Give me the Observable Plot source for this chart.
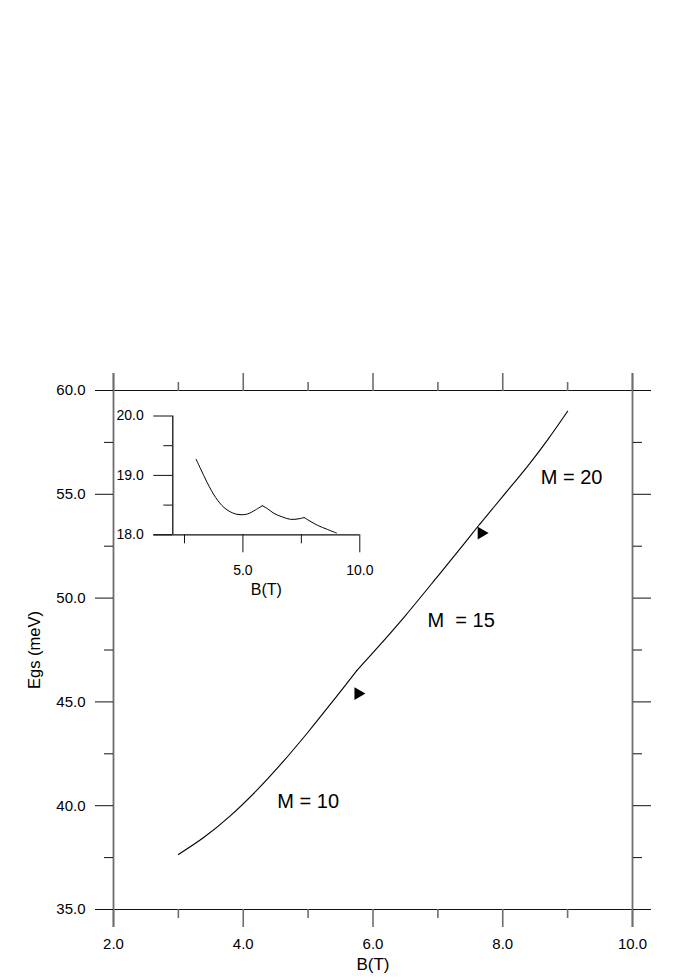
<!DOCTYPE html>
<html>
<head>
<meta charset="utf-8">
<script src="https://cdn.jsdelivr.net/npm/d3@7"></script>
<script src="https://cdn.jsdelivr.net/npm/@observablehq/plot@0.6"></script>
<style>
html, body { margin: 0; padding: 0; background: #fff; }
#chart { position: relative; width: 681px; height: 980px; }
#chart svg { position: absolute; left: 0; top: 0; }
</style>
</head>
<body>
<div id="chart"></div>
<script>
// ---- Main curve: ground-state energy Egs (meV) versus B (T)
const mainB = [3.0, 3.4, 3.8, 4.2, 4.6, 5.0, 5.4, 5.75, 6.1, 6.5, 7.0, 7.4, 7.65, 8.0, 8.4, 8.7, 9.0];
const mainE = [37.65, 38.49, 39.51, 40.71, 42.07, 43.55, 45.11, 46.51, 47.72, 49.16, 51.06, 52.60, 53.58, 54.90, 56.42, 57.66, 59.0];
const mainKinksB = [5.75, 7.65];

// ---- Transition markers (triangles)
const markerB = [5.77, 7.67];
const markerE = [45.40, 53.13];

// ---- Angular momentum labels
const mLabels = ["M = 10", "M\u00a0 = 15", "M = 20"];
const mLabelB = [4.525, 6.84, 8.586];
const mLabelE = [39.89, 48.63, 55.52];

// ---- Inset curve
const insetB = [3.0, 3.19, 3.47, 3.83, 4.19, 4.55, 4.83, 5.19, 5.54, 5.83, 6.05, 6.33, 6.69, 7.04, 7.40, 7.62, 7.83, 8.19, 8.62, 9.0];
const insetE = [19.27, 19.11, 18.88, 18.63, 18.46, 18.37, 18.34, 18.35, 18.42, 18.49, 18.44, 18.36, 18.30, 18.26, 18.27, 18.29, 18.24, 18.16, 18.09, 18.03];
const insetKinksB = [5.83, 7.62];

// ---- Axes
const xDomain = [2, 10];
const yDomain = [35, 60];
const xMajor = [2, 4, 6, 8, 10];
const xMinor = [3, 5, 7, 9];
const yMajor = [35, 40, 45, 50, 55, 60];
const yMinor = [37.5, 42.5, 47.5, 52.5, 57.5];
const xTitle = "B(T)";
const yTitle = "Egs (meV)";

const insetXDomain = [2, 10];
const insetYDomain = [18, 20];
const insetXMajor = [5, 10];
const insetXMinor = [2.5, 7.5];
const insetYMajor = [18, 19, 20];
const insetYMinor = [18.5, 19.5];
const insetXTitle = "B(T)";

// ---- build tables
function segmented(Bs, Es, kinks) {
  const rows = [];
  Bs.forEach((b, i) => {
    const seg = kinks.filter(k => b > k + 1e-9).length;
    rows.push({B: b, E: Es[i], seg});
    if (kinks.some(k => Math.abs(k - b) < 1e-9)) rows.push({B: b, E: Es[i], seg: seg + 1});
  });
  return rows;
}
const mainRows = segmented(mainB, mainE, mainKinksB);
const insetRows = segmented(insetB, insetE, insetKinksB);
const markers = markerB.map((b, i) => ({B: b, E: markerE[i]}));
const labels = mLabels.map((t, i) => ({t, B: mLabelB[i], E: mLabelE[i]}));

// right-pointing triangle symbol (centroid at origin)
const triangleRight = {
  draw(ctx, size) {
    const s = Math.sqrt(size * 4 / Math.sqrt(3));
    const h = s * Math.sqrt(3) / 2;
    ctx.moveTo(-h / 3, -s / 2);
    ctx.lineTo(2 * h / 3, 0);
    ctx.lineTo(-h / 3, s / 2);
    ctx.closePath();
  }
};

const font = "'Liberation Sans', Arial, Helvetica, sans-serif";
const fmt = d3.format(".1f");
const vGray = "#6e6e6e";

const W = 681, H = 980;
const main = Plot.plot({
  width: W, height: H,
  marginLeft: 113, marginRight: 49, marginTop: 390, marginBottom: 71,
  style: {background: "white", fontFamily: font, color: "#000", overflow: "visible"},
  x: {domain: xDomain},
  y: {domain: yDomain},
  marks: [
    // frame lines extending past the corners
    Plot.ruleY(yDomain, {stroke: "#111", strokeWidth: 1.2, insetLeft: -18, insetRight: -17}),
    Plot.ruleX(xDomain, {stroke: vGray, strokeWidth: 1.8, insetTop: -17, insetBottom: -18}),
    // bottom axis
    Plot.axisX({anchor: "bottom", ticks: xMajor, tickSize: 18, tickPadding: 11, tickFormat: fmt, label: null, fontSize: 15, stroke: vGray, strokeWidth: 1.6, fill: "#000"}),
    Plot.axisX({anchor: "bottom", ticks: xMinor, tickSize: 9, label: null, fill: "none", stroke: vGray, strokeWidth: 1.6}),
    // top axis
    Plot.axisX({anchor: "top", ticks: xMajor, tickSize: 18, label: null, fill: "none", stroke: vGray, strokeWidth: 1.6}),
    Plot.axisX({anchor: "top", ticks: xMinor, tickSize: 9, label: null, fill: "none", stroke: vGray, strokeWidth: 1.6}),
    // left axis
    Plot.axisY({anchor: "left", ticks: yMajor, tickSize: 18, tickPadding: 10, tickFormat: fmt, label: null, fontSize: 15, stroke: "#111", fill: "#000"}),
    Plot.axisY({anchor: "left", ticks: yMinor, tickSize: 9, label: null, fill: "none", stroke: "#111"}),
    // right axis
    Plot.axisY({anchor: "right", ticks: yMajor, tickSize: 18, label: null, fill: "none", stroke: "#111"}),
    Plot.axisY({anchor: "right", ticks: yMinor, tickSize: 9, label: null, fill: "none", stroke: "#111"}),
    // curve
    Plot.line(mainRows, {x: "B", y: "E", z: "seg", stroke: "#000", strokeWidth: 1.1, curve: "catmull-rom"}),
    // markers
    Plot.dot(markers, {x: "B", y: "E", symbol: triangleRight, r: 4.7, fill: "#000", stroke: "none"}),
    // M labels
    Plot.text(labels, {x: "B", y: "E", text: "t", textAnchor: "start", lineAnchor: "bottom", fontSize: 20, fill: "#000"}),
    // axis titles
    Plot.text([xTitle], {frameAnchor: "bottom", dy: 55, textAnchor: "middle", lineAnchor: "middle", fontSize: 17, fill: "#000", ariaLabel: "x-title"}),
    Plot.text([yTitle], {frameAnchor: "left", dx: -78.5, rotate: -90, textAnchor: "middle", lineAnchor: "middle", fontSize: 16.5, fill: "#000", ariaLabel: "y-title"})
  ]
});

const inset = Plot.plot({
  width: W, height: H,
  marginLeft: 172.3, marginRight: 321.7, marginTop: 415.5, marginBottom: 445.7,
  style: {background: "transparent", fontFamily: font, color: "#000", overflow: "visible"},
  x: {domain: insetXDomain},
  y: {domain: insetYDomain},
  marks: [
    Plot.ruleY([insetYDomain[0]], {stroke: "#111", strokeWidth: 1.2, insetLeft: -19}),
    Plot.ruleX([insetXDomain[0]], {stroke: "#111", strokeWidth: 1.3}),
    Plot.axisX({ticks: insetXMajor, tickSize: 18, tickPadding: 12, tickFormat: fmt, label: null, fontSize: 14, stroke: "#111", fill: "#000"}),
    Plot.axisX({ticks: insetXMinor, tickSize: 9, label: null, fill: "none", stroke: "#111"}),
    Plot.axisY({ticks: insetYMajor, tickSize: 19, tickPadding: 10, tickFormat: fmt, label: null, fontSize: 14, stroke: "#111", fill: "#000"}),
    Plot.axisY({ticks: insetYMinor, tickSize: 9, label: null, fill: "none", stroke: "#111"}),
    Plot.line(insetRows, {x: "B", y: "E", z: "seg", stroke: "#000", strokeWidth: 1, curve: "catmull-rom"}),
    Plot.text([insetXTitle], {frameAnchor: "bottom", dy: 55.2, textAnchor: "middle", lineAnchor: "middle", fontSize: 16, fill: "#000", ariaLabel: "inset-x-title"})
  ]
});

const chart = document.getElementById("chart");
chart.appendChild(main);
chart.appendChild(inset);

d3.select(main).selectAll('g[aria-label="y-title"] text').style("letter-spacing", "1.2px");
d3.select(main).selectAll('g[aria-label="x-title"] text').style("letter-spacing", "0.8px");
d3.select(inset).selectAll('g[aria-label="inset-x-title"] text').style("letter-spacing", "0.8px");
</script>
</body>
</html>
